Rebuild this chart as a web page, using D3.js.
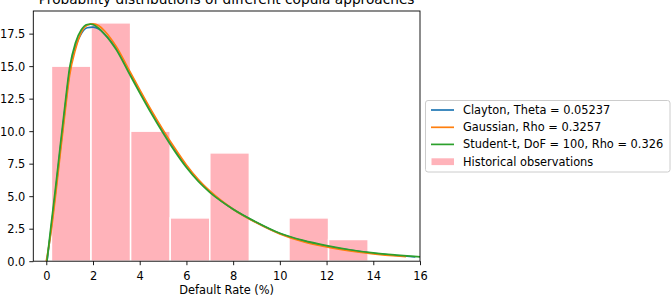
<!DOCTYPE html>
<html>
<head>
<meta charset="utf-8">
<script src="https://cdn.jsdelivr.net/npm/d3@7"></script>
<style>
  body { margin: 0; background: #fff; }
  svg { display: block; }
  text { font-family: "DejaVu Sans", sans-serif; fill: #000; }
</style>
</head>
<body>
<div id="chart"></div>
<script>
// histogram bins (default rate %, density)
const binEdges = [0.22, 1.915, 3.61, 5.305, 7.0, 8.695, 10.39, 12.085, 13.78];
const binValues = [15.0, 18.33, 10.0, 3.33, 8.33, 0, 3.33, 1.67];

// fitted curves
const claytonX = [0.03, 0.2, 0.4, 0.6, 0.8, 1.0, 1.25, 1.5, 1.75, 2.0, 2.25, 2.5, 2.75, 3.0, 3.5, 4.0, 4.5, 5.0, 5.5, 6.0, 6.5, 7.0, 7.5, 8.0, 9.0, 10.0, 11.0, 12.0, 13.0, 14.0, 15.0, 15.8];
const claytonY = [0.0, 2.4, 5.4, 8.6, 11.7, 14.6, 16.5, 17.5, 17.95, 18.0, 17.85, 17.45, 16.95, 16.35, 14.75, 13.1, 11.5, 10.0, 8.6, 7.3, 6.25, 5.35, 4.62, 4.0, 2.98, 2.13, 1.56, 1.15, 0.85, 0.61, 0.44, 0.34];

const gaussX = [0.0, 0.2, 0.4, 0.6, 0.8, 1.0, 1.25, 1.5, 1.75, 2.0, 2.25, 2.5, 2.75, 3.0, 3.5, 4.0, 4.5, 5.0, 5.5, 6.0, 6.5, 7.0, 7.5, 8.0, 9.0, 10.0, 11.0, 12.0, 13.0, 14.0, 15.0, 15.4];
const gaussY = [0.0, 2.2, 5.1, 8.3, 11.4, 14.3, 16.3, 17.6, 18.15, 18.25, 18.1, 17.7, 17.15, 16.5, 14.85, 13.2, 11.6, 10.1, 8.7, 7.4, 6.3, 5.4, 4.65, 4.0, 2.95, 2.1, 1.5, 1.1, 0.8, 0.57, 0.4, 0.35];

const studentX = [0.03, 0.2, 0.4, 0.6, 0.8, 1.0, 1.25, 1.5, 1.75, 1.9, 2.0, 2.25, 2.5, 2.75, 3.0, 3.5, 4.0, 4.5, 5.0, 5.5, 6.0, 6.5, 7.0, 7.5, 8.0, 9.0, 10.0, 11.0, 12.0, 13.0, 14.0, 15.0, 16.0];
const studentY = [0.05, 2.7, 5.7, 8.9, 12.0, 14.9, 16.8, 17.8, 18.2, 18.23, 18.2, 17.9, 17.45, 16.9, 16.25, 14.6, 12.95, 11.35, 9.85, 8.45, 7.2, 6.15, 5.3, 4.6, 4.0, 3.0, 2.15, 1.6, 1.2, 0.88, 0.64, 0.47, 0.33];

const xTicks = [0, 2, 4, 6, 8, 10, 12, 14, 16];
const yTicks = [0, 2.5, 5, 7.5, 10, 12.5, 15, 17.5];

const series = [
	{label: "Clayton, Theta = 0.05237", xs: claytonX, ys: claytonY, color: "#1f77b4"},
	{label: "Gaussian, Rho = 0.3257", xs: gaussX, ys: gaussY, color: "#ff7f0e"},
	{label: "Student-t, DoF = 100, Rho = 0.326", xs: studentX, ys: studentY, color: "#2ca02c"}
];
const histLabel = "Historical observations";
const barColor = "#ffb3ba";

drawChart();

function drawChart() {
	const W = 672, H = 296;
	const plot = {left: 33.3, right: 420, top: 11, bottom: 261.2};

	const svg = d3.select("#chart").append("svg")
		.attr("width", W)
		.attr("height", H);

	const x = d3.scaleLinear().domain([-0.556, 16]).range([plot.left, plot.right]);
	const y = d3.scaleLinear().domain([0, 19.24]).range([plot.bottom, plot.top]);

	// bars
	const bins = binValues.map((v, i) => ({x0: binEdges[i], x1: binEdges[i + 1], v: v}));
	svg.append("g")
		.selectAll("rect")
		.data(bins.filter(d => d.v > 0))
		.enter()
		.append("rect")
		.attr("x", d => x(d.x0))
		.attr("y", d => y(d.v))
		.attr("width", d => x(d.x1) - x(d.x0))
		.attr("height", d => y(0) - y(d.v))
		.attr("fill", barColor)
		.attr("stroke", "#fff")
		.attr("stroke-width", 1.5);

	// curves
	const line = d3.line()
		.x(d => x(d[0]))
		.y(d => y(d[1]))
		.curve(d3.curveMonotoneX);

	series.forEach(s => {
		svg.append("path")
			.datum(s.xs.map((v, i) => [v, s.ys[i]]))
			.attr("d", line)
			.attr("fill", "none")
			.attr("stroke", s.color)
			.attr("stroke-width", 1.7);
	});

	// axes
	const xAxis = svg.append("g")
		.attr("transform", `translate(0,${plot.bottom})`)
		.call(d3.axisBottom(x).tickValues(xTicks).tickSize(4).tickPadding(6.7).tickFormat(d3.format("d")));
	const yAxis = svg.append("g")
		.attr("transform", `translate(${plot.left},0)`)
		.call(d3.axisLeft(y).tickValues(yTicks).tickSize(4).tickPadding(4).tickFormat(d3.format(".1f")));

	[xAxis, yAxis].forEach(a => {
		a.select(".domain").remove();
		a.selectAll("line").attr("stroke", "#000").attr("stroke-width", 0.9);
		a.selectAll("text").style("font-size", "11.4px").style("font-family", "DejaVu Sans");
	});
	yAxis.selectAll("text").attr("dy", "0.34em");

	// frame
	svg.append("rect")
		.attr("x", plot.left)
		.attr("y", plot.top)
		.attr("width", plot.right - plot.left)
		.attr("height", plot.bottom - plot.top)
		.attr("fill", "none")
		.attr("stroke", "#000")
		.attr("stroke-width", 0.9);

	// title and label
	svg.append("text")
		.attr("x", (plot.left + plot.right) / 2)
		.attr("y", 4.2)
		.attr("text-anchor", "middle")
		.style("font-size", "13.7px")
		.text("Probability distributions of different copula approaches");

	svg.append("text")
		.attr("x", (plot.left + plot.right) / 2)
		.attr("y", 294)
		.attr("text-anchor", "middle")
		.style("font-size", "11.4px")
		.text("Default Rate (%)");

	// legend
	const lg = svg.append("g");
	lg.append("rect")
		.attr("x", 425.5)
		.attr("y", 100.5)
		.attr("width", 244.5)
		.attr("height", 71.5)
		.attr("rx", 2.5)
		.attr("fill", "#fff")
		.attr("fill-opacity", 0.8)
		.attr("stroke", "#cccccc")
		.attr("stroke-width", 1);

	const rows = [110, 127.3, 144.4, 161.7];
	series.forEach((s, i) => {
		lg.append("line")
			.attr("x1", 431).attr("x2", 454)
			.attr("y1", rows[i]).attr("y2", rows[i])
			.attr("stroke", s.color)
			.attr("stroke-width", 1.7);
		lg.append("text")
			.attr("x", 463)
			.attr("y", rows[i] + 4)
			.style("font-size", "11.4px")
			.text(s.label);
	});
	lg.append("rect")
		.attr("x", 431.5).attr("y", rows[3] - 3.4)
		.attr("width", 22.5).attr("height", 6.8)
		.attr("fill", barColor);
	lg.append("text")
		.attr("x", 463)
		.attr("y", rows[3] + 4)
		.style("font-size", "11.4px")
		.text(histLabel);
}
</script>
</body>
</html>
